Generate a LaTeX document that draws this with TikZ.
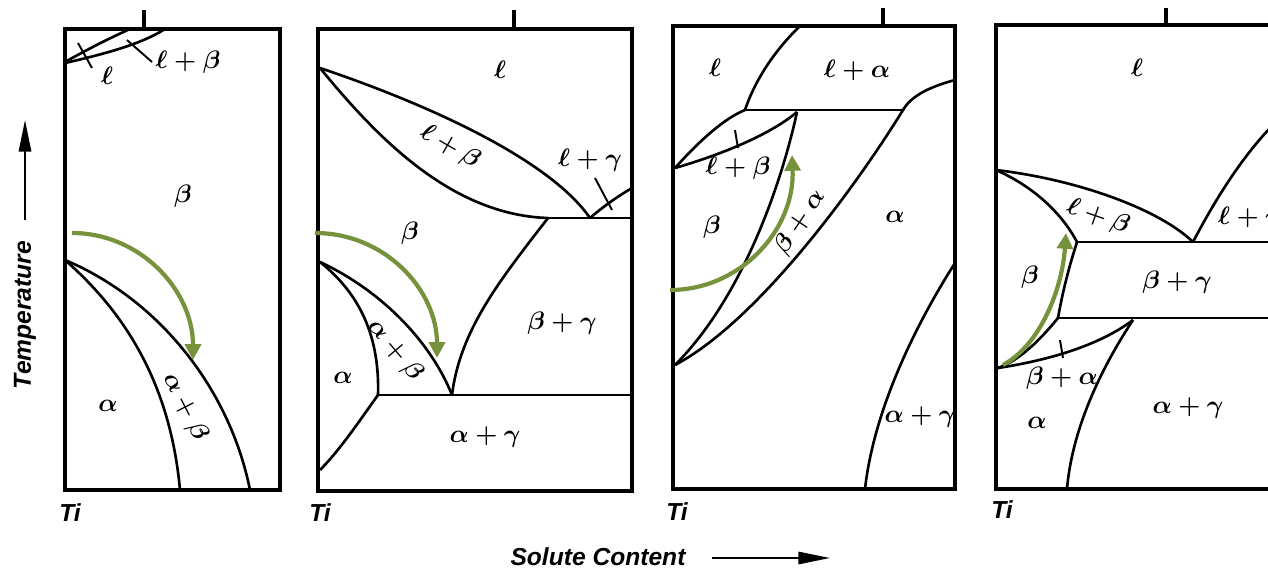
\documentclass[tikz,border=0pt]{standalone}
\usepackage{amsmath}
\usepackage{fontspec}
\setsansfont{Liberation Sans}
\usetikzlibrary{arrows.meta}
\definecolor{coolgreen}{RGB}{118,146,60}

\begin{document}
\begin{tikzpicture}[x=0.02cm, y=-0.02cm,
    wall/.style={line width=1.9pt},
    boundary/.style={line width=1.5pt},
    tie/.style={line width=1.1pt},
    cooling/.style={line width=2.4pt, coolgreen, -{Triangle[length=9pt,width=9pt]}},
    axisarrow/.style={line width=1.2pt, -{Triangle[length=18pt,width=7pt]}},
    phaselbl/.style={font=\fontsize{14.5}{16}\selectfont\boldmath},
    axislbl/.style={font=\fontsize{14}{16}\selectfont\sffamily\bfseries\itshape}]
    \clip (0,0) rectangle (1268,571);

    % Axis captions
    \node[axislbl, rotate=90] (temp) at (25,315) {Temperature};
    \draw[axisarrow] (25,220) -- (25,120);
    \node[axislbl] (solute) at (598,557) {Solute Content};
    \draw[axisarrow] (712,558) -- (830,558);

    % Diagram 1
    \draw[wall] (65,29) rectangle (280,490);
    \draw[wall] (144,10) -- (144,29);
    \draw[boundary] (65,62) .. controls (90,48) and (110,38) .. (130,29);
    \draw[boundary] (65,63) .. controls (100,55) and (140,45) .. (165,29);
    \draw[tie] (78,43) -- (92,68);
    \draw[tie] (127,40) -- (152,62);
    \draw[boundary] (65,260) .. controls (122,310) and (170,380) .. (180,490);
    \draw[boundary] (65,260) .. controls (160,300) and (230,390) .. (250,490);
    \draw[cooling] (72,233) .. controls (140,233) and (193,290) .. (193,360);
    \node[phaselbl] (liqA) at (107,76) {$\ell$};
    \node[phaselbl] (liqbetaA) at (188,62) {$\ell+\beta$};
    \node[phaselbl] (betaA) at (183,196) {$\beta$};
    \node[phaselbl] (alphaA) at (108,406) {$\alpha$};
    \node[phaselbl, rotate=-63] (abA) at (185,407) {$\alpha+\beta$};
    \node[axislbl] (tiA) at (70,513) {Ti};

    % Diagram 2
    \draw[wall] (318,29) rectangle (632,491);
    \draw[wall] (514,10) -- (514,29);
    \draw[boundary] (320,68) .. controls (430,105) and (550,160) .. (590,218);
    \draw[boundary] (320,68) .. controls (375,135) and (450,215) .. (548,218);
    \draw[boundary] (548,218) -- (632,218);
    \draw[boundary] (590,218) .. controls (605,205) and (620,195) .. (632,188);
    \draw[tie] (595,178) -- (612,210);
    \draw[boundary] (548,218) .. controls (500,280) and (460,330) .. (452,395);
    \draw[boundary] (320,262) .. controls (380,290) and (430,340) .. (452,395);
    \draw[boundary] (320,262) .. controls (355,290) and (380,330) .. (378,395);
    \draw[boundary] (378,395) .. controls (360,420) and (340,450) .. (320,470);
    \draw[boundary] (378,395) -- (632,395);
    \draw[cooling] (315,233) .. controls (385,233) and (437,290) .. (437,358);
    \node[phaselbl] (liqB) at (500,70) {$\ell$};
    \node[phaselbl, rotate=-30] (liqbetaB) at (450,147) {$\ell+\beta$};
    \node[phaselbl] (liqgamB) at (590,160) {$\ell+\gamma$};
    \node[phaselbl] (betaB) at (410,233) {$\beta$};
    \node[phaselbl] (bgB) at (562,323) {$\beta+\gamma$};
    \node[phaselbl] (alphaB) at (343,378) {$\alpha$};
    \node[phaselbl, rotate=-50] (abB) at (395,350) {$\alpha+\beta$};
    \node[phaselbl] (agB) at (485,437) {$\alpha+\gamma$};
    \node[axislbl] (tiB) at (320,513) {Ti};

    % Diagram 3
    \draw[wall] (673,26) rectangle (955,489);
    \draw[wall] (883,8) -- (883,26);
    \draw[boundary] (800,26) .. controls (775,50) and (755,80) .. (745,110);
    \draw[boundary] (745,110) -- (903,110);
    \draw[boundary] (955,80) .. controls (925,88) and (910,98) .. (903,110)
        .. controls (860,180) and (760,320) .. (675,365);
    \draw[boundary] (797,112) .. controls (780,190) and (740,300) .. (675,365);
    \draw[boundary] (675,168) .. controls (700,140) and (725,118) .. (745,110);
    \draw[boundary] (675,168) .. controls (720,155) and (770,135) .. (797,112);
    \draw[tie] (735,130) -- (738,148);
    \draw[boundary] (955,263) .. controls (925,310) and (875,400) .. (865,489);
    \draw[cooling] (670,290) .. controls (740,290) and (795,230) .. (792,155);
    \node[phaselbl] (liqC) at (715,68) {$\ell$};
    \node[phaselbl] (laC) at (857,70) {$\ell+\alpha$};
    \node[phaselbl] (liqbetaC) at (738,168) {$\ell+\beta$};
    \node[phaselbl] (betaC) at (712,227) {$\beta$};
    \node[phaselbl, rotate=56] (baC) at (800,222) {$\beta+\alpha$};
    \node[phaselbl] (alphaC) at (895,217) {$\alpha$};
    \node[phaselbl] (agC) at (920,417) {$\alpha+\gamma$};
    \node[axislbl] (tiC) at (677,512) {Ti};

    % Diagram 4
    \draw[wall] (1290,25) -- (996,25) -- (996,489) -- (1290,489);
    \draw[wall] (1166,8) -- (1166,25);
    \draw[boundary] (996,170) .. controls (1080,180) and (1160,210) .. (1193,242);
    \draw[boundary] (996,170) .. controls (1030,185) and (1060,210) .. (1077,242);
    \draw[boundary] (1077,242) -- (1290,242);
    \draw[boundary] (1193,242) .. controls (1215,200) and (1240,160) .. (1270,128);
    \draw[boundary] (1077,242) .. controls (1068,270) and (1062,295) .. (1058,318);
    \draw[boundary] (1058,318) -- (1290,318);
    \draw[boundary] (1058,318) .. controls (1040,340) and (1020,360) .. (998,368);
    \draw[boundary] (998,368) .. controls (1050,360) and (1100,345) .. (1133,320);
    \draw[tie] (1060,340) -- (1063,358);
    \draw[boundary] (1133,320) .. controls (1100,370) and (1072,430) .. (1067,489);
    \draw[cooling] (1003,365) .. controls (1040,345) and (1062,290) .. (1066,233);
    \node[phaselbl] (liqD) at (1137,68) {$\ell$};
    \node[phaselbl, rotate=-19] (liqbetaD) at (1098,217) {$\ell+\beta$};
    \node[phaselbl] (liqgamD) at (1250,218) {$\ell+\gamma$};
    \node[phaselbl] (betaD) at (1030,277) {$\beta$};
    \node[phaselbl] (bgD) at (1177,282) {$\beta+\gamma$};
    \node[phaselbl] (baD) at (1062,378) {$\beta+\alpha$};
    \node[phaselbl] (alphaD) at (1037,423) {$\alpha$};
    \node[phaselbl] (agD) at (1188,408) {$\alpha+\gamma$};
    \node[axislbl] (tiD) at (1002,510) {Ti};
\end{tikzpicture}
\end{document}
